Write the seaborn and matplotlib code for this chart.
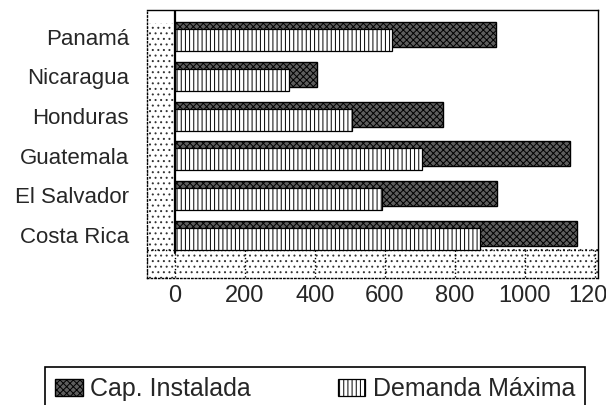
import matplotlib
matplotlib.use("Agg")
import matplotlib.pyplot as plt
import seaborn as sns
import numpy as np

paises = ["Panamá", "Nicaragua", "Honduras", "Guatemala", "El Salvador", "Costa Rica"]
cap_instalada = [917, 405, 766, 1129, 920, 1149]
demanda_maxima = [620, 326, 506, 706, 591, 871]
ticks = [0, 200, 400, 600, 800, 1000, 1200]

sns.set_theme(style="white")
plt.rcParams["font.family"] = ["Liberation Sans", "DejaVu Sans"]
plt.rcParams["hatch.linewidth"] = 0.7

fig = plt.figure(figsize=(6.06, 4.05), dpi=100)
ax = fig.add_axes([147 / 606, 1 - 278 / 405, 451 / 606, 268 / 405])

# dotted "3D" wall and floor
floor_top = 5.38
ax.axvspan(-80, 0, facecolor="white", edgecolor="#333333", hatch="...", lw=0, zorder=0)
ax.axhspan(floor_top, 6.08, facecolor="white", edgecolor="#333333", hatch="...", lw=0, zorder=0)
ax.vlines(ticks, floor_top, 6.08, colors="black", linestyles=":", lw=1, zorder=1)
ax.axhline(floor_top, color="black", ls=":", lw=1, zorder=1)

sns.barplot(x=cap_instalada, y=paises, orient="h", ax=ax, width=0.63,
            color="#5e5e5e", saturation=1, edgecolor="black", hatch="xxxxx",
            linewidth=1.0, label="Cap. Instalada", zorder=3)
n1 = len(ax.patches)
sns.barplot(x=demanda_maxima, y=paises, orient="h", ax=ax, width=0.55,
            color="white", saturation=1, edgecolor="black", hatch="||||",
            linewidth=0.9, label="Demanda Máxima", zorder=4)

# shift the two series apart a bit (back / front bar)
for i, p in enumerate(ax.patches):
    p.set_y(p.get_y() + (-0.05 if i < n1 else 0.09))

ax.axvline(0, ymin=(6.08 - 5.45) / 6.75, ymax=1, color="black", lw=1.6, zorder=5)

ax.set_xlim(-80, 1209)
ax.set_ylim(6.08, -0.67)
ax.set_xticks(ticks)
ax.set_xticklabels([str(t) for t in ticks], fontsize=17)
ax.tick_params(axis="y", labelsize=16, length=0, pad=13)
ax.tick_params(axis="x", length=0, pad=5)
ax.set_xlabel("")
ax.set_ylabel("")
for s in ["left", "bottom"]:
    ax.spines[s].set_linestyle(":")
for s in ax.spines.values():
    s.set_color("black")
    s.set_linewidth(1)

h, l = ax.get_legend_handles_labels()
leg = fig.legend(h[:2], l[:2], loc="upper left",
                 bbox_to_anchor=(45 / 606, 1 - 367 / 405, 540 / 606, 0.0),
                 mode="expand", ncol=2, frameon=True, fancybox=False,
                 edgecolor="black", framealpha=1, fontsize=18,
                 handlelength=1.1, handleheight=0.7, handletextpad=0.3,
                 borderpad=0.4, borderaxespad=0)
leg.get_frame().set_linewidth(1.2)
if ax.get_legend() is not None:
    ax.get_legend().remove()

fig.savefig("out.png", dpi=100)
